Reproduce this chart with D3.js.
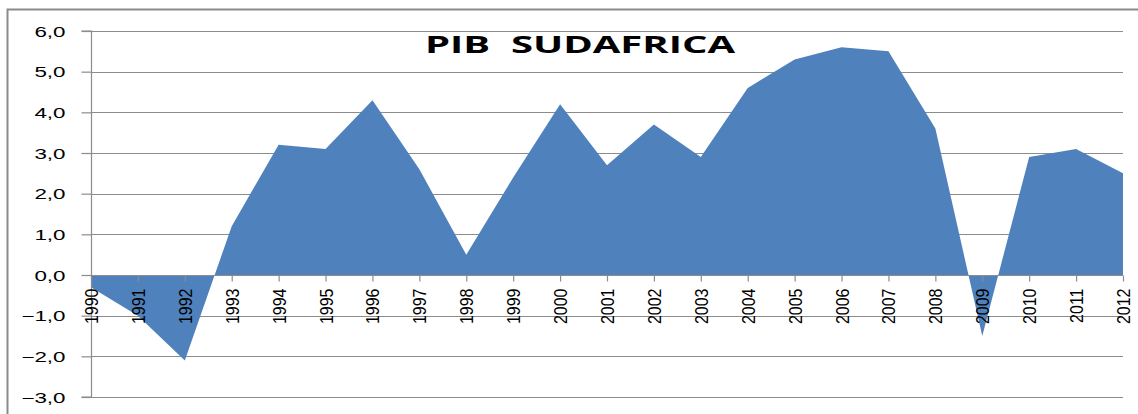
<!DOCTYPE html>
<html>
<head>
<meta charset="utf-8">
<script src="https://cdn.jsdelivr.net/npm/d3@7"></script>
<style>
  html, body { margin: 0; padding: 0; background: #fff; }
  svg { display: block; }
</style>
</head>
<body>
<svg id="chart" width="1138" height="414"></svg>
<script>
const title = "PIB  SUDAFRICA";
const years = ["1990","1991","1992","1993","1994","1995","1996","1997","1998","1999","2000","2001","2002","2003","2004","2005","2006","2007","2008","2009","2010","2011","2012"];
const gdp = [-0.3, -1.0, -2.1, 1.2, 3.2, 3.1, 4.3, 2.6, 0.5, 2.4, 4.2, 2.7, 3.7, 2.9, 4.6, 5.3, 5.6, 5.5, 3.6, -1.5, 2.9, 3.1, 2.5];
const yTicks = [-3, -2, -1, 0, 1, 2, 3, 4, 5, 6];

(function () {
const svg = d3.select("#chart");
const pL = 91, pR = 1123, pT = 31, pB = 397;

const x = d3.scalePoint().domain(years).range([pL, pR]);
const y = d3.scaleLinear().domain([-3, 6]).range([pB, pT]);
const gridColor = "#8c8c8c";

// outer chart border
svg.append("rect")
  .attr("x", 7.5).attr("y", 9.5).attr("width", 1140).attr("height", 420)
  .attr("fill", "none").attr("stroke", "#8a8a8a").attr("stroke-width", 2);

// horizontal gridlines (behind area)
svg.append("g").selectAll("line").data(yTicks.filter(d => d !== 0)).join("line")
  .attr("x1", pL).attr("x2", pR)
  .attr("y1", d => Math.round(y(d)) + 0.5).attr("y2", d => Math.round(y(d)) + 0.5)
  .attr("stroke", gridColor).attr("stroke-width", 1.2);

// area
const area = d3.area()
  .x((d, i) => x(years[i]))
  .y0(y(0))
  .y1(d => y(d));
svg.append("path").datum(gdp)
  .attr("d", area)
  .attr("fill", "#4F81BD");

// y axis
const yAxis = d3.axisLeft(y).tickValues(yTicks).tickSize(10).tickPadding(0)
  .tickFormat(d => d3.format(".1f")(d).replace(".", ","));
const gy = svg.append("g").attr("transform", `translate(${pL + 0.5},0)`).call(yAxis);
gy.select(".domain").attr("stroke", gridColor).attr("stroke-width", 1.2).attr("d", `M-10,${y(6)}H0V${y(-3)}H-10`);
gy.selectAll(".tick line").attr("stroke", gridColor).attr("stroke-width", 1.2);
gy.selectAll(".tick text")
  .attr("x", null)
  .attr("text-anchor", "end")
  .attr("dy", "0.36em")
  .attr("transform", "translate(-26,0) scale(1.6,1)")
  .attr("fill", "#000")
  .style("font-family", "'Liberation Sans', Arial, sans-serif")
  .style("font-size", "14px");

// x axis at zero
const xAxis = d3.axisBottom(x).tickSize(6).tickPadding(0);
const gx = svg.append("g").attr("transform", `translate(0,${Math.round(y(0)) + 0.5})`).call(xAxis);
gx.select(".domain").attr("stroke", gridColor).attr("stroke-width", 1.2).attr("d", `M${pL},0H${pR}`);
gx.selectAll(".tick line").attr("stroke", gridColor).attr("stroke-width", 1.2);
gx.selectAll(".tick text")
  .attr("y", null)
  .attr("text-anchor", "end")
  .attr("transform", "translate(0,13) rotate(-90) scale(1,1.12)")
  .attr("dy", "0.36em")
  .attr("fill", "#000")
  .style("font-family", "'Liberation Sans', Arial, sans-serif")
  .style("font-size", "16px");

// title
svg.append("text")
  .attr("x", 425).attr("y", 53)
  .attr("textLength", 310).attr("lengthAdjust", "spacingAndGlyphs")
  .style("font-family", "'Open Sans', 'Liberation Sans', sans-serif")
  .style("font-weight", "700")
  .style("font-size", "23px")
  .style("white-space", "pre")
  .attr("fill", "#000")
  .text(title);
})();
</script>
</body>
</html>
